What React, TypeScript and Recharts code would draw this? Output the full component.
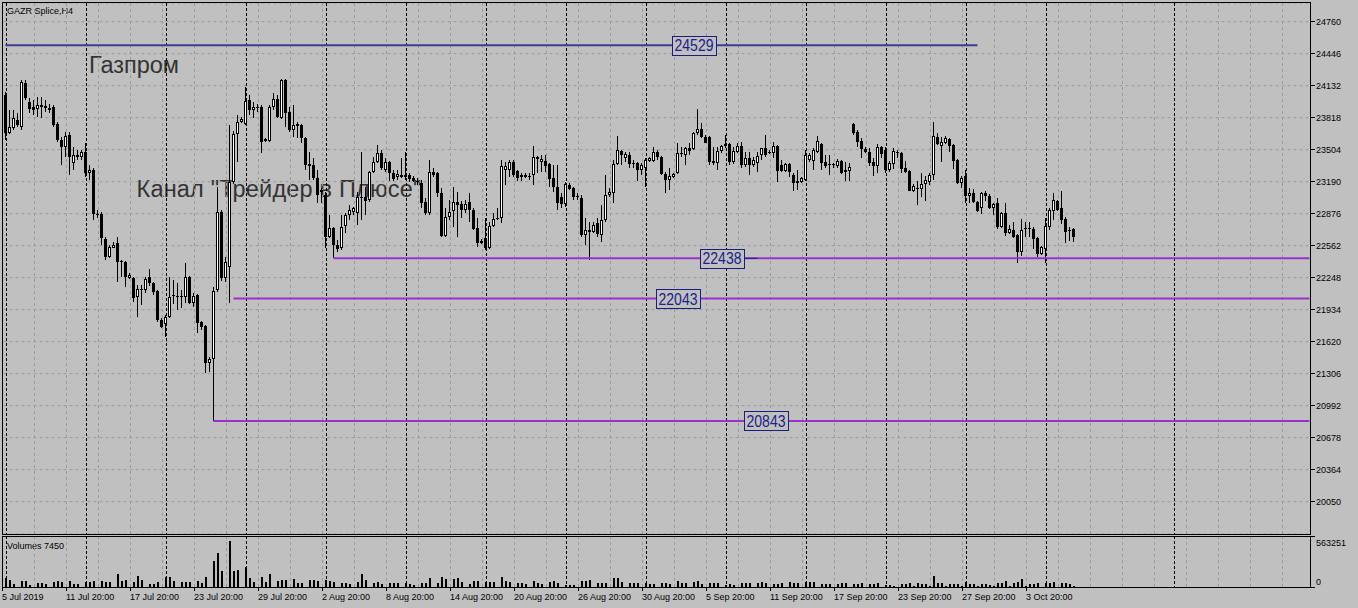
import React from 'react';
import { ComposedChart, Bar, XAxis, YAxis, CartesianGrid, ReferenceLine, ReferenceDot } from 'recharts';

// ---- data (GAZR Splice, H4) ----
const opens = [
  24041, 23668, 23717, 23796, 23727, 24159, 23973, 23924, 23904, 23924,
  23933, 23914, 23924, 23757, 23599, 23530, 23648, 23373, 23452, 23432,
  23481, 23276, 23305, 22873, 22873, 22628, 22451, 22540, 22589, 22412,
  22402, 22245, 22245, 22058, 22137, 22127, 22255, 22196, 22117, 21833,
  21794, 21862, 22068, 22068, 22068, 22058, 22255, 22000, 22078, 21813,
  21774, 21411, 21450, 22127, 22892, 22245, 22353, 23187, 23658, 23776,
  23757, 23992, 23894, 23924, 23924, 23609, 23589, 23924, 24002, 23816,
  24188, 23875, 23697, 23757, 23747, 23618, 23364, 23354, 23226, 23109,
  23059, 22648, 22736, 22569, 22540, 22755, 22863, 22892, 22883, 23040,
  23040, 23010, 23285, 23383, 23472, 23305, 23383, 23276, 23236, 23256,
  23236, 23256, 23226, 23197, 23177, 22991, 22883, 23285, 23276, 23079,
  22658, 22843, 22902, 22991, 22971, 22912, 22991, 22912, 22736, 22608,
  22638, 22540, 22755, 22824, 22834, 23305, 23305, 23383, 23295, 23236,
  23256, 23246, 23256, 23432, 23383, 23393, 23364, 23226, 23138, 23040,
  22971, 23158, 23128, 23050, 23030, 22667, 22716, 22696, 22785, 22667,
  22814, 23059, 23079, 23364, 23491, 23423, 23452, 23373, 23373, 23305,
  23325, 23393, 23393, 23481, 23432, 23266, 23207, 23236, 23276, 23462,
  23452, 23520, 23511, 23668, 23707, 23628, 23628, 23393, 23373, 23491,
  23540, 23560, 23383, 23481, 23540, 23354, 23423, 23354, 23373, 23452,
  23520, 23481, 23472, 23540, 23354, 23295, 23364, 23256, 23197, 23187,
  23207, 23403, 23393, 23481, 23560, 23383, 23364, 23364, 23344, 23393,
  23305, 23295, 23757, 23677, 23589, 23511, 23481, 23383, 23344, 23530,
  23501, 23305, 23364, 23481, 23472, 23325, 23295, 23099, 23128, 23118,
  23168, 23187, 23256, 23628, 23540, 23570, 23609, 23550, 23403, 23177,
  23246, 23050, 23079, 22991, 22932, 23079, 23050, 22932, 22981, 22746,
  22883, 22687, 22716, 22667, 22500, 22736, 22726, 22726, 22638, 22481,
  22530, 22746, 22902, 23001, 22932, 22824, 22716, 22726,
];
const highs = [
  24071, 23894, 23894, 23865, 24188, 24188, 24012, 23992, 24022, 24022,
  23992, 23953, 23943, 23776, 23628, 23677, 23677, 23530, 23501, 23501,
  23570, 23354, 23325, 22912, 22892, 22648, 22569, 22598, 22648, 22420,
  22410, 22294, 22250, 22176, 22176, 22255, 22333, 22206, 22127, 21852,
  21882, 22255, 22225, 22196, 22127, 22392, 22264, 22098, 22085, 21823,
  21784, 21470, 22157, 23138, 22912, 22451, 23746, 23687, 23845, 23826,
  24120, 24041, 23973, 23953, 23943, 23618, 23943, 24061, 24041, 24198,
  24198, 23924, 23943, 23776, 23757, 23625, 23481, 23423, 23305, 23128,
  23089, 22863, 22746, 22618, 22863, 22883, 22961, 22941, 23089, 23481,
  23138, 23295, 23432, 23550, 23501, 23423, 23393, 23305, 23305, 23423,
  23481, 23276, 23246, 23226, 23207, 23030, 23403, 23325, 23285, 23128,
  22932, 23010, 23138, 23089, 23001, 23010, 23079, 22932, 22834, 22628,
  22834, 22794, 22883, 22932, 23403, 23383, 23403, 23403, 23305, 23276,
  23276, 23276, 23540, 23442, 23452, 23452, 23373, 23354, 23354, 23079,
  23187, 23177, 23138, 23079, 23059, 22834, 22794, 22794, 22834, 22961,
  23256, 23128, 23403, 23638, 23501, 23481, 23481, 23403, 23383, 23373,
  23423, 23432, 23530, 23501, 23442, 23285, 23325, 23276, 23570, 23530,
  23530, 23570, 23677, 23904, 23766, 23648, 23635, 23530, 23530, 23550,
  23648, 23570, 23530, 23570, 23579, 23481, 23481, 23432, 23481, 23525,
  23648, 23501, 23579, 23550, 23403, 23373, 23373, 23276, 23305, 23236,
  23501, 23472, 23520, 23638, 23570, 23452, 23452, 23373, 23413, 23403,
  23383, 23373, 23766, 23697, 23618, 23530, 23520, 23423, 23560, 23540,
  23530, 23393, 23520, 23501, 23478, 23393, 23305, 23168, 23197, 23276,
  23246, 23276, 23776, 23668, 23628, 23638, 23618, 23560, 23410, 23246,
  23305, 23128, 23118, 23001, 23089, 23099, 23069, 22981, 23030, 22892,
  22981, 22765, 22794, 22672, 22824, 22794, 22794, 22746, 22648, 22555,
  22834, 22932, 23079, 23010, 23099, 22843, 22746, 22732,
];
const lows = [
  23599, 23658, 23697, 23727, 23697, 23992, 23865, 23845, 23826, 23816,
  23875, 23865, 23727, 23579, 23354, 23432, 23256, 23305, 23403, 23403,
  23236, 23207, 22814, 22834, 22569, 22422, 22441, 22540, 22205, 22255,
  22157, 22235, 22009, 21862, 21980, 22098, 22166, 22078, 21813, 21754,
  21666, 21855, 21990, 21931, 21951, 22000, 21990, 21960, 21706, 21735,
  21313, 21323, 20843, 22108, 22216, 22205, 22000, 23168, 23383, 23766,
  23747, 23845, 23816, 23875, 23472, 23579, 23579, 23894, 23816, 23810,
  23727, 23677, 23628, 23618, 23570, 23305, 23207, 23207, 22981, 22981,
  22540, 22638, 22441, 22500, 22520, 22687, 22814, 22863, 22765, 22814,
  22863, 22991, 23276, 23373, 23305, 23285, 23197, 23197, 23207, 23226,
  23207, 23187, 23187, 23158, 22932, 22863, 22863, 23236, 23040, 22648,
  22648, 22814, 22746, 22648, 22834, 22883, 22794, 22716, 22549, 22579,
  22520, 22530, 22746, 22814, 22785, 23158, 23236, 23236, 23197, 23197,
  23226, 23207, 23158, 23276, 23285, 23285, 23138, 23089, 22912, 22932,
  22942, 23109, 23010, 23010, 22648, 22569, 22422, 22687, 22648, 22598,
  22794, 23040, 22981, 23354, 23354, 23383, 23325, 23325, 23197, 23256,
  23138, 23383, 23383, 23403, 23256, 23079, 23109, 23226, 23270, 23432,
  23354, 23452, 23505, 23648, 23618, 23565, 23354, 23354, 23305, 23472,
  23520, 23354, 23364, 23472, 23325, 23334, 23256, 23334, 23285, 23403,
  23432, 23462, 23423, 23187, 23285, 23285, 23236, 23099, 23109, 23177,
  23197, 23383, 23305, 23472, 23305, 23325, 23256, 23325, 23325, 23266,
  23197, 23197, 23648, 23530, 23423, 23472, 23344, 23246, 23276, 23423,
  23276, 23285, 23315, 23423, 23276, 23276, 23095, 23089, 22961, 23040,
  23001, 23158, 23207, 23550, 23383, 23560, 23481, 23315, 23170, 23128,
  22981, 22981, 22981, 22892, 22873, 23001, 22922, 22863, 22726, 22740,
  22657, 22677, 22640, 22392, 22461, 22648, 22648, 22530, 22451, 22471,
  22392, 22716, 22814, 22902, 22775, 22588, 22608, 22598,
];
const closes = [
  23668, 23727, 23816, 23747, 24168, 24012, 23904, 23894, 23943, 23943,
  23914, 23894, 23747, 23599, 23530, 23638, 23432, 23452, 23432, 23481,
  23276, 23305, 22873, 22863, 22638, 22451, 22549, 22569, 22402, 22402,
  22255, 22275, 22048, 22137, 22127, 22235, 22196, 22108, 21833, 21764,
  21862, 22058, 22078, 22058, 22058, 22255, 22000, 22068, 21803, 21764,
  21411, 21450, 22117, 22892, 22245, 22402, 23187, 23658, 23776, 23806,
  23983, 23894, 23924, 23914, 23579, 23589, 23924, 24002, 23826, 24188,
  23865, 23697, 23747, 23737, 23618, 23354, 23344, 23226, 23059, 23089,
  22648, 22736, 22569, 22530, 22746, 22863, 22912, 22932, 23040, 23030,
  23001, 23285, 23383, 23472, 23325, 23383, 23276, 23216, 23266, 23236,
  23256, 23216, 23197, 23187, 22981, 22883, 23285, 23256, 23079, 22658,
  22843, 22892, 22991, 22961, 22912, 22971, 22912, 22726, 22589, 22589,
  22540, 22755, 22824, 22834, 23344, 23344, 23383, 23256, 23226, 23256,
  23236, 23236, 23432, 23413, 23413, 23344, 23216, 23138, 22981, 22971,
  23168, 23118, 23040, 23040, 22667, 22716, 22696, 22765, 22677, 22814,
  23059, 23089, 23364, 23501, 23452, 23462, 23364, 23364, 23305, 23354,
  23403, 23423, 23481, 23432, 23266, 23207, 23246, 23266, 23472, 23472,
  23520, 23491, 23668, 23707, 23628, 23570, 23383, 23373, 23491, 23540,
  23560, 23383, 23491, 23540, 23354, 23423, 23354, 23403, 23442, 23520,
  23452, 23472, 23540, 23295, 23295, 23364, 23285, 23177, 23177, 23226,
  23452, 23452, 23501, 23589, 23373, 23344, 23354, 23354, 23393, 23276,
  23285, 23334, 23668, 23579, 23511, 23481, 23373, 23344, 23530, 23462,
  23305, 23373, 23491, 23480, 23315, 23285, 23099, 23148, 23118, 23168,
  23207, 23256, 23638, 23560, 23579, 23618, 23540, 23393, 23177, 23226,
  23050, 23079, 22991, 22902, 23079, 23050, 22932, 22971, 22746, 22883,
  22687, 22726, 22648, 22500, 22716, 22726, 22736, 22628, 22481, 22549,
  22755, 22912, 23010, 22912, 22814, 22696, 22710, 22648,
];
const volumes = [
  103000, 77000, 37000, 3000, 66000, 66000, 26000, 3000,
  40000, 40000, 33000, 3000, 59000, 66000, 52000, 3000,
  66000, 33000, 33000, 3000, 52000, 59000, 66000, 3000,
  70000, 59000, 59000, 3000, 144000, 70000, 77000, 3000,
  52000, 121000, 77000, 3000, 33000, 33000, 59000, 3000,
  107000, 114000, 70000, 3000, 59000, 59000, 59000, 3000,
  66000, 40000, 114000, 3000, 287000, 379000, 177000, 3000,
  508000, 177000, 188000, 3000, 217000, 96000, 52000, 3000,
  114000, 59000, 140000, 3000, 70000, 77000, 77000, 3000,
  88000, 40000, 40000, 3000, 77000, 77000, 70000, 3000,
  77000, 70000, 59000, 3000, 48000, 48000, 33000, 3000,
  59000, 140000, 77000, 3000, 48000, 59000, 33000, 3000,
  40000, 40000, 40000, 3000, 48000, 33000, 22000, 3000,
  40000, 48000, 96000, 3000, 40000, 107000, 85000, 3000,
  92000, 103000, 59000, 3000, 33000, 70000, 70000, 3000,
  52000, 52000, 52000, 3000, 110000, 70000, 59000, 3000,
  40000, 40000, 33000, 3000, 66000, 40000, 33000, 3000,
  59000, 70000, 40000, 3000, 22000, 22000, 22000, 3000,
  70000, 70000, 77000, 3000, 40000, 40000, 48000, 3000,
  96000, 96000, 52000, 3000, 40000, 40000, 40000, 3000,
  40000, 33000, 33000, 3000, 40000, 40000, 33000, 3000,
  66000, 40000, 40000, 3000, 59000, 70000, 33000, 3000,
  40000, 40000, 40000, 3000, 22000, 30000, 22000, 3000,
  40000, 40000, 40000, 3000, 40000, 52000, 40000, 3000,
  33000, 33000, 40000, 3000, 59000, 40000, 40000, 3000,
  52000, 52000, 59000, 3000, 33000, 33000, 33000, 3000,
  33000, 40000, 48000, 3000, 33000, 33000, 40000, 3000,
  33000, 33000, 40000, 3000, 25000, 22000, 15000, 3000,
  33000, 33000, 40000, 10000, 40000, 33000, 33000, 10000,
  120000, 48000, 40000, 10000, 33000, 33000, 33000, 10000,
  59000, 33000, 33000, 10000, 30000, 30000, 22000, 10000,
  40000, 40000, 66000, 10000, 48000, 55000, 88000, 10000,
  33000, 33000, 40000, 3000, 40000, 40000, 55000, 3000,
  40000, 40000, 30000, 10000,
];
const xTickLabels = [
  '5 Jul 2019', '11 Jul 20:00', '17 Jul 20:00', '23 Jul 20:00', '29 Jul 20:00',
  '2 Aug 20:00', '8 Aug 20:00', '14 Aug 20:00', '20 Aug 20:00', '26 Aug 20:00',
  '30 Aug 20:00', '5 Sep 20:00', '11 Sep 20:00', '17 Sep 20:00', '23 Sep 20:00',
  '27 Sep 20:00', '3 Oct 20:00',
];
const priceTicks = [24760, 24446, 24132, 23818, 23504, 23190, 22876, 22562, 22248, 21934, 21620, 21306, 20992, 20678, 20364, 20050];
const volumeTicks = [0, 563251];
const levelPrices = [24529, 22438, 22043, 20843];
const levelStartBars = [0, 82, 57, 52];
const weekStartBars = [0, 20, 40, 60, 80, 100, 120, 140, 160, 180, 200, 220, 240, 260, 292];

// ---- layout ----
const SLOTS = 327;
const BARS_PER_LABEL = 16;
const FONT = '"Liberation Sans", Arial, sans-serif';
const BG = '#c0c0c0';
const GRID = '#9a9a9a';

const rows = Array.from({ length: SLOTS }, (_, i) =>
  i < opens.length
    ? { idx: i, open: opens[i], high: highs[i], low: lows[i], close: closes[i], vol: volumes[i] }
    : { idx: i }
);
const xTickIdx = xTickLabels.map((_, k) => k * BARS_PER_LABEL);

const lightGrid = (p: any) => {
  const left = p?.offset?.left ?? 3.5;
  const w = p?.offset?.width ?? 1308;
  const band = w / SLOTS;
  const pts: number[] = [];
  for (let i = 0; i < SLOTS; i += 8) pts.push(left + i * band - 1);
  return pts;
};
const sepGrid = (p: any) => {
  const left = p?.offset?.left ?? 3.5;
  const w = p?.offset?.width ?? 1308;
  const band = w / SLOTS;
  return weekStartBars.map((i) => left + i * band + 3);
};

const Candle = (props: any) => {
  const { x, y, width, height, payload } = props;
  if (!payload || payload.high == null) return null;
  const { open, close, high, low } = payload;
  const top = Math.min(y, y + height);
  const h = Math.abs(height);
  const span = high - low || 1;
  const py = (v: number) => top + ((high - v) / span) * h;
  const cx = Math.floor(x + width / 2) + 0.5;
  const yO = py(open);
  const yC = py(close);
  const bTop = Math.round(Math.min(yO, yC));
  const bBot = Math.round(Math.max(yO, yC));
  const up = close > open;
  const wTop = Math.round(top);
  const wBot = Math.max(Math.round(top + h), wTop + 1);
  let body;
  if (bBot - bTop < 2) {
    body = <rect x={cx - 1.5} y={bTop} width={3} height={1} fill="#000" />;
  } else if (up) {
    body = <rect x={cx - 1} y={bTop + 0.5} width={2} height={bBot - bTop - 1} fill="#fff" stroke="#000" strokeWidth={1} />;
  } else {
    body = <rect x={cx - 1.5} y={bTop} width={3} height={bBot - bTop} fill="#000" />;
  }
  return (
    <g>
      <line x1={cx} x2={cx} y1={wTop} y2={wBot} stroke="#000" strokeWidth={1} />
      {body}
    </g>
  );
};

const VolBar = (props: any) => {
  const { x, y, width, height } = props;
  if (height == null || Math.abs(height) < 0.5) return null;
  const top = Math.round(Math.min(y, y + height));
  const bottom = Math.round(Math.max(y, y + height));
  if (bottom - top < 1) return null;
  return <rect x={Math.floor(x + width / 2)} y={top} width={2} height={bottom - top} fill="#000" />;
};

const PriceTick = (props: any) => {
  const { x, y, payload } = props;
  const x0 = Math.floor(x);
  const yy = Math.floor(y) + 0.5;
  return (
    <g>
      <line x1={x0} x2={x0 + 4} y1={yy} y2={yy} stroke="#000" />
      <text x={x0 + 5} y={y + 3.3} fontSize={9} fontFamily={FONT} fill="#000">{payload.value}</text>
    </g>
  );
};

const VolTick = (props: any) => {
  const { x, y, payload } = props;
  const x0 = Math.floor(x);
  const yy = Math.floor(y) + 0.5;
  const isTop = payload.value > 0;
  return (
    <g>
      <line x1={x0} x2={x0 + 4} y1={yy} y2={yy} stroke="#000" />
      <text x={x0 + 5} y={isTop ? y + 10 : y - 2.5} fontSize={9} fontFamily={FONT} fill="#000">{payload.value}</text>
    </g>
  );
};

const TimeTick = (props: any) => {
  const { x, y, payload } = props;
  const x0 = Math.floor(x) - 3;
  const k = xTickIdx.indexOf(payload.value);
  const label = k >= 0 ? xTickLabels[k] : '';
  return (
    <g>
      <line x1={x0 + 0.5} x2={x0 + 0.5} y1={y + 1} y2={y + 4} stroke="#000" />
      <text x={x0} y={y + 13} fontSize={9} fontFamily={FONT} fill="#000">{label}</text>
    </g>
  );
};

const LevelBox = ({ cx, cy, label }: any) => {
  const x0 = Math.round(cx - 22) + 0.5;
  const y0 = Math.round(cy - 9.5) + 0.5;
  return (
    <g>
      <rect x={x0} y={y0} width={44} height={19} fill={BG} stroke="#1c1c7c" strokeWidth={1} />
      <text x={cx + 0.5} y={cy + 6} fontSize={16} fontFamily={FONT} fill="#20208a" textAnchor="middle"
        textLength={39} lengthAdjust="spacingAndGlyphs">{label}</text>
    </g>
  );
};

const MAIN_H = 540;
const VOL_TOP = 530;
const VOL_H = 78;

export default function App() {
  const lastBar = SLOTS - 1;
  return (
    <div style={{ position: 'absolute', left: 0, top: 0, width: 1358, height: 608, background: BG, overflow: 'hidden' }}>
      {/* background texts */}
      <svg width={1358} height={608} style={{ position: 'absolute', left: 0, top: 0 }}>
        <text x={7} y={13.5} fontSize={9} fontFamily={FONT} fill="#000">GAZR Splice,H4</text>
        <text x={89} y={73} fontSize={23.5} fontFamily={FONT} fill="#333">Газпром</text>
        <text x={136.5} y={196.5} fontSize={23.5} fontFamily={FONT} fill="#333" letterSpacing={0.2}>Канал "Трейдер в Плюсе"</text>
        <text x={7} y={548.5} fontSize={9} fontFamily={FONT} fill="#000">Volumes 7450</text>
      </svg>

      {/* price window */}
      <div style={{ position: 'absolute', left: 0, top: 0 }}>
        <ComposedChart width={1358} height={MAIN_H} data={rows} margin={{ top: 3, right: 0, bottom: 6, left: 3.5 }}
          barCategoryGap={0} barGap={0}>
          <CartesianGrid horizontal={true} vertical={true} stroke={GRID} strokeDasharray="3 3"
            verticalCoordinatesGenerator={lightGrid} />
          <CartesianGrid horizontal={false} vertical={true} stroke="#000" strokeDasharray="3 2"
            verticalCoordinatesGenerator={sepGrid} />
          <XAxis dataKey="idx" type="category" hide />
          <YAxis orientation="right" type="number" width={46.5} domain={[19733, 24943.6]} ticks={priceTicks}
            interval={0} allowDataOverflow tickLine={false} axisLine={false} tickSize={0} tickMargin={0}
            tick={<PriceTick />} />
          <Bar dataKey={(d: any) => (d.high == null ? null : [d.low, d.high])} shape={<Candle />}
            isAnimationActive={false} />
          <ReferenceLine segment={[{ x: levelStartBars[0], y: levelPrices[0] }, { x: 243, y: levelPrices[0] }]}
            stroke="#3c3c8e" strokeWidth={2} ifOverflow="visible" />
          <ReferenceLine segment={[{ x: levelStartBars[1], y: levelPrices[1] }, { x: lastBar, y: levelPrices[1] }]}
            stroke="#9932cc" strokeWidth={2} ifOverflow="visible" />
          <ReferenceLine segment={[{ x: levelStartBars[2], y: levelPrices[2] }, { x: lastBar, y: levelPrices[2] }]}
            stroke="#9932cc" strokeWidth={2} ifOverflow="visible" />
          <ReferenceLine segment={[{ x: levelStartBars[3], y: levelPrices[3] }, { x: lastBar, y: levelPrices[3] }]}
            stroke="#9932cc" strokeWidth={2} ifOverflow="visible" />
          <ReferenceLine segment={[{ x: 184, y: levelPrices[1] }, { x: 188, y: levelPrices[1] }]}
            stroke="#1c1c7c" strokeWidth={1} ifOverflow="visible" />
          <ReferenceDot x={172} y={levelPrices[0]} r={0} ifOverflow="visible"
            shape={(p: any) => <LevelBox cx={p.cx} cy={p.cy} label={String(levelPrices[0])} />} />
          <ReferenceDot x={179} y={levelPrices[1]} r={0} ifOverflow="visible"
            shape={(p: any) => <LevelBox cx={p.cx} cy={p.cy} label={String(levelPrices[1])} />} />
          <ReferenceDot x={168} y={levelPrices[2]} r={0} ifOverflow="visible"
            shape={(p: any) => <LevelBox cx={p.cx} cy={p.cy} label={String(levelPrices[2])} />} />
          <ReferenceDot x={190} y={levelPrices[3]} r={0} ifOverflow="visible"
            shape={(p: any) => <LevelBox cx={p.cx} cy={p.cy} label={String(levelPrices[3])} />} />
        </ComposedChart>
      </div>

      {/* volume window */}
      <div style={{ position: 'absolute', left: 0, top: VOL_TOP }}>
        <ComposedChart width={1358} height={VOL_H} data={rows} margin={{ top: 6, right: 0, bottom: 0, left: 3.5 }}
          barCategoryGap={0} barGap={0}>
          <CartesianGrid horizontal={false} vertical={true} stroke={GRID} strokeDasharray="3 3"
            verticalCoordinatesGenerator={lightGrid} />
          <CartesianGrid horizontal={false} vertical={true} stroke="#000" strokeDasharray="3 2"
            verticalCoordinatesGenerator={sepGrid} />
          <XAxis dataKey="idx" type="category" height={21} ticks={xTickIdx} interval={0}
            tickLine={false} axisLine={false} tickSize={0} tickMargin={0} tick={<TimeTick />} />
          <YAxis orientation="right" type="number" width={46.5} domain={[0, 563251]} ticks={volumeTicks}
            interval={0} allowDataOverflow tickLine={false} axisLine={false} tickSize={0} tickMargin={0}
            tick={<VolTick />} />
          <Bar dataKey="vol" shape={<VolBar />} isAnimationActive={false} />
        </ComposedChart>
      </div>

      {/* window frames */}
      <div style={{ position: 'absolute', left: 2, top: 2, width: 1309, height: 533, boxSizing: 'border-box', border: '1px solid #000', pointerEvents: 'none' }} />
      <div style={{ position: 'absolute', left: 2, top: 536, width: 1309, height: 52, boxSizing: 'border-box', border: '1px solid #000', pointerEvents: 'none' }} />
    </div>
  );
}
